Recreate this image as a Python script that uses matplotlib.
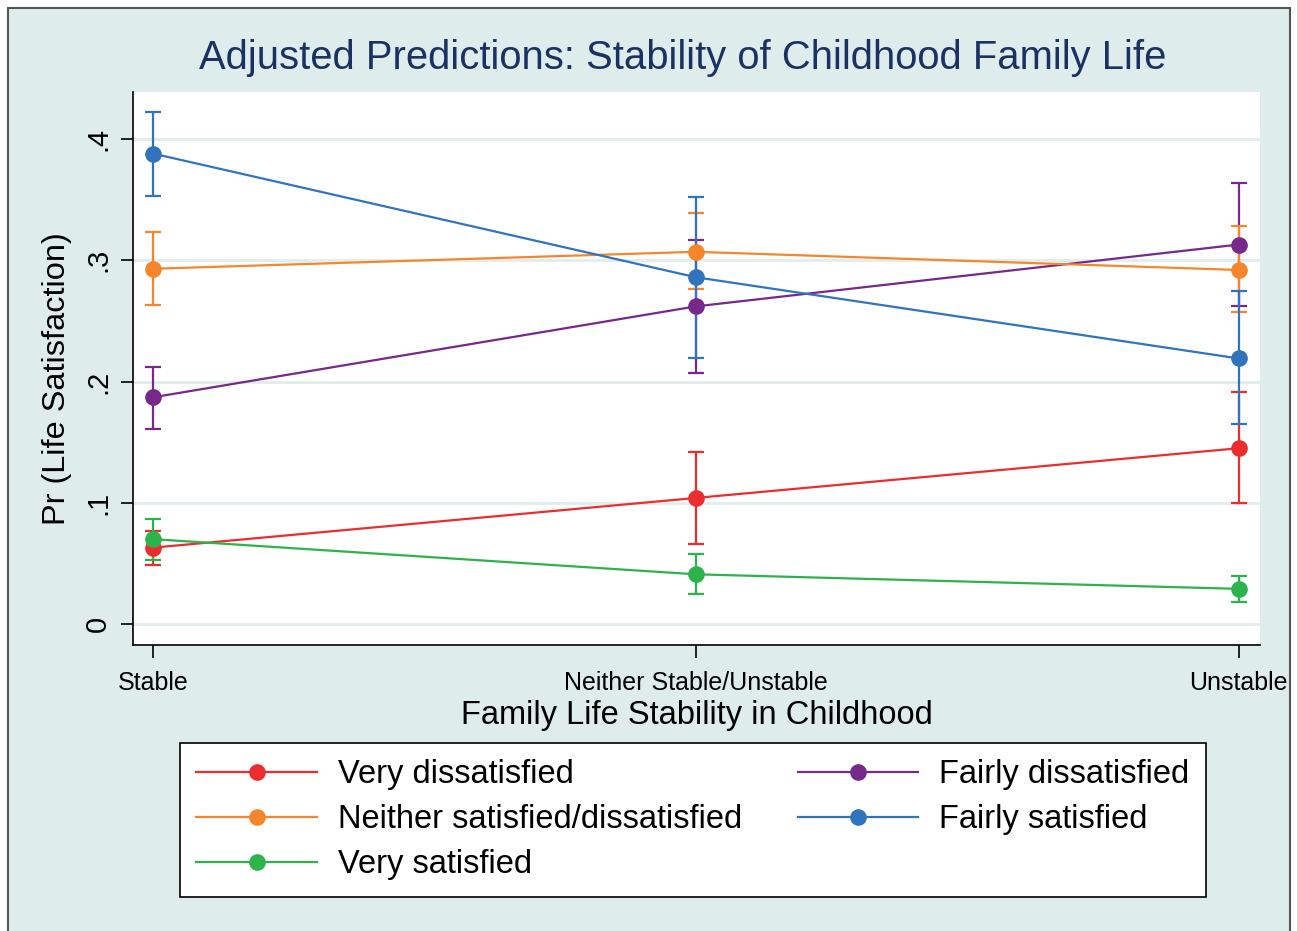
import matplotlib
matplotlib.use("Agg")
import matplotlib.pyplot as plt
from matplotlib.patches import Rectangle
from matplotlib.ticker import FixedLocator, FixedFormatter

plt.rcParams['font.family'] = ['Liberation Sans', 'DejaVu Sans']

# Childhood family stability categories
categories = ["Stable", "Neither Stable/Unstable", "Unstable"]

# Predicted probabilities with 95% confidence limits per outcome
very_dissatisfied = [0.063, 0.104, 0.145]
very_dissatisfied_lo = [0.049, 0.066, 0.100]
very_dissatisfied_hi = [0.077, 0.142, 0.191]

fairly_dissatisfied = [0.187, 0.262, 0.313]
fairly_dissatisfied_lo = [0.161, 0.207, 0.262]
fairly_dissatisfied_hi = [0.212, 0.317, 0.364]

neither = [0.293, 0.307, 0.292]
neither_lo = [0.263, 0.276, 0.257]
neither_hi = [0.323, 0.339, 0.328]

fairly_satisfied = [0.388, 0.286, 0.219]
fairly_satisfied_lo = [0.353, 0.219, 0.165]
fairly_satisfied_hi = [0.422, 0.352, 0.275]

very_satisfied = [0.070, 0.041, 0.029]
very_satisfied_lo = [0.053, 0.025, 0.018]
very_satisfied_hi = [0.087, 0.058, 0.040]

series = [
    ("Very dissatisfied", very_dissatisfied, very_dissatisfied_lo, very_dissatisfied_hi, "#ec2d2f"),
    ("Fairly dissatisfied", fairly_dissatisfied, fairly_dissatisfied_lo, fairly_dissatisfied_hi, "#76298b"),
    ("Neither satisfied/dissatisfied", neither, neither_lo, neither_hi, "#f5862b"),
    ("Fairly satisfied", fairly_satisfied, fairly_satisfied_lo, fairly_satisfied_hi, "#3174be"),
    ("Very satisfied", very_satisfied, very_satisfied_lo, very_satisfied_hi, "#2db34b"),
]

y_ticks = [0, 0.1, 0.2, 0.3, 0.4]
y_ticklabels = ["0", ".1", ".2", ".3", ".4"]

W, H = 1297, 931
fig = plt.figure(figsize=(W / 100, H / 100), dpi=100, facecolor="white")

# Stata-style outer graph region
fig.patches.append(Rectangle((8 / W, -0.01), (1290 - 8) / W, 1 - 8 / H + 0.01,
                             transform=fig.transFigure, facecolor="#dfecec",
                             edgecolor="#555555", linewidth=1.5, zorder=0))

ax = fig.add_axes([133 / W, 1 - 645 / H, (1260 - 133) / W, (645 - 92) / H])
ax.set_zorder(2)
ax.set_facecolor("white")

x = [1, 2, 3]
handles = {}
for name, vals, lo, hi, col in series:
    yerr = [[v - l for v, l in zip(vals, lo)], [h - v for v, h in zip(vals, hi)]]
    ax.errorbar(x, vals, yerr=yerr, fmt="none", ecolor=col, elinewidth=1.6,
                capsize=6, capthick=1.6, zorder=3)
    ln, = ax.plot(x, vals, color=col, linewidth=1.6, marker="o",
                  markersize=12, markeredgewidth=0, zorder=4)
    handles[name] = ln

ax.set_xlim(0.963, 3.039)
ax.set_ylim(-0.0173, 0.4388)
ax.xaxis.set_major_locator(FixedLocator(x))
ax.xaxis.set_major_formatter(FixedFormatter(categories))
ax.yaxis.set_major_locator(FixedLocator(y_ticks))
ax.yaxis.set_major_formatter(FixedFormatter(y_ticklabels))

ax.grid(axis="y", color="#e1ecec", linewidth=2, zorder=0)
ax.set_axisbelow(True)
for s in ["top", "right"]:
    ax.spines[s].set_visible(False)
for s in ["left", "bottom"]:
    ax.spines[s].set_color("black")
    ax.spines[s].set_linewidth(1.2)

ax.tick_params(axis="x", length=9, width=1.2, labelsize=18, pad=10, colors="black")
ax.tick_params(axis="y", length=9, width=1.2, labelsize=21, pad=6, colors="black")
for lab in ax.get_yticklabels():
    lab.set_rotation(90)
    lab.set_va("center")

ax.set_ylabel("Pr (Life Satisfaction)", fontsize=23.4)
ax.yaxis.set_label_coords(-0.054, 0.482)
ax.set_xlabel("Family Life Stability in Childhood", fontsize=23.5, labelpad=3)

fig.text(683 / W, 1 - 58 / H,
         "Adjusted Predictions: Stability of Childhood Family Life",
         fontsize=28.8, color="#1a3263", ha="center", va="center")

order = ["Very dissatisfied", "Neither satisfied/dissatisfied", "Very satisfied",
         "Fairly dissatisfied", "Fairly satisfied"]
leg = fig.legend([handles[k] for k in order], order, ncol=2,
                 loc="upper left", bbox_to_anchor=(180 / W, 1 - 743 / H),
                 fontsize=23.5, frameon=True, fancybox=False, edgecolor="black",
                 facecolor="white", framealpha=1, handlelength=3.7,
                 labelspacing=0.43, borderpad=0.5, handletextpad=0.64,
                 columnspacing=1.7, borderaxespad=0)
leg.get_frame().set_linewidth(1.2)
leg.set_zorder(5)

fig.savefig("out.png", dpi=100, facecolor="white")
